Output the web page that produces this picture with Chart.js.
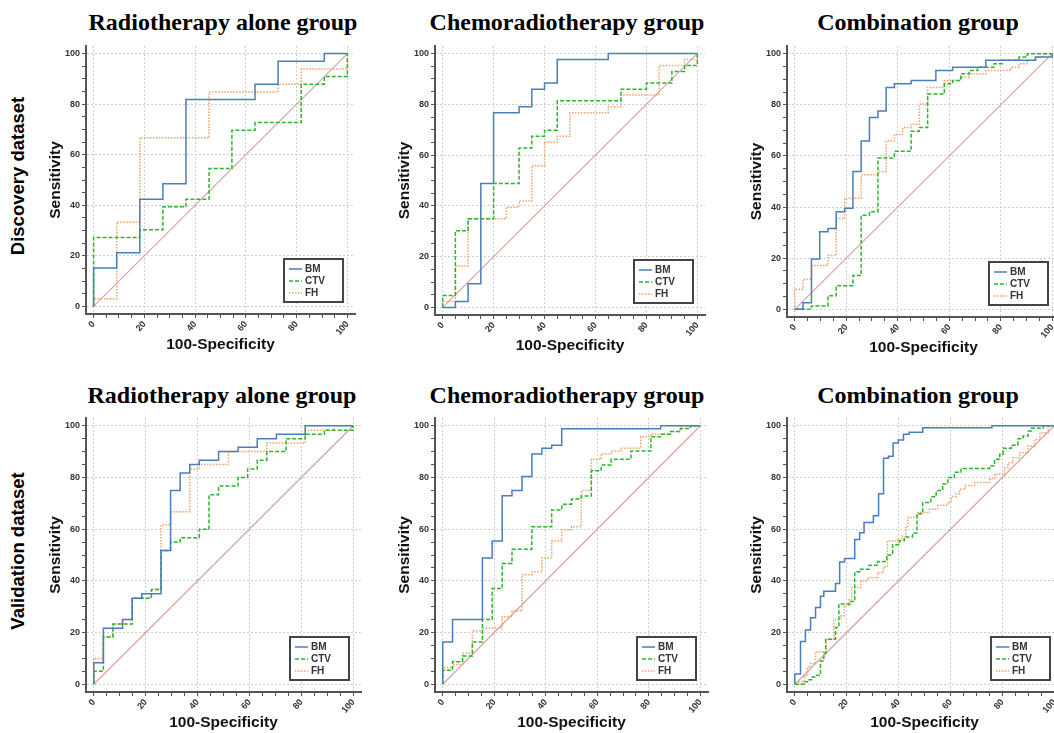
<!DOCTYPE html>
<html lang="en">
<head>
  <meta charset="UTF-8" />
  <title>ROC curves: BM, CTV, FH</title>
  <script src="https://cdn.jsdelivr.net/npm/chart.js"></script>
  <style>
    body { margin: 0; background: #fff; }
    #page { position: relative; width: 1054px; height: 733px; overflow: hidden; }
    canvas { position: absolute; }
    .title { position: absolute; transform: translate(-50%, -50%); white-space: nowrap;
             font: bold 24px "Liberation Serif", "Times New Roman", serif; color: #000; }
    .rowlabel { position: absolute; transform: translate(-50%, -50%) rotate(-90deg); white-space: nowrap;
                font: bold 18.5px "Liberation Sans", Arial, sans-serif; color: #000; }
  </style>
</head>
<body>
<div id="page"></div>

<script>
  // ---- data, points are [100-Specificity, Sensitivity] ----
  const groupTitles = ['Radiotherapy alone group', 'Chemoradiotherapy group', 'Combination group'];
  const rowLabels = ['Discovery dataset', 'Validation dataset'];
  const seriesNames = ['BM', 'CTV', 'FH'];
  const tickLabels = [0, 20, 40, 60, 80, 100];
  const minorTicks = [0, 5, 10, 15, 20, 25, 30, 35, 40, 45, 50, 55, 60, 65, 70, 75, 80, 85, 90, 95, 100];
  const chance = [[0, 0], [100, 100]];

  const discRadBM = [[0,0],[0,15.2],[9.1,21.2],[18.2,42.4],[27.3,48.5],[36.4,81.8],[63.6,87.9],[72.7,97],[90.9,100],[100,100]];
  const discRadCTV = [[0,0],[0,27.3],[18.2,30.3],[27.3,39.4],[36.4,42.4],[45.5,54.5],[54.5,69.7],[63.6,72.7],[81.8,87.9],[90.9,90.9],[100,100]];
  const discRadFH = [[0,0],[0,3],[9.1,33.3],[18.2,66.7],[45.5,84.8],[72.7,87.9],[81.8,93.9],[100,100]];

  const discChemoBM = [[0,0],[5,2.3],[10,9.3],[15,48.8],[20,76.7],[30,79.1],[35,86],[40,88.4],[45,97.7],[65,100],[100,100]];
  const discChemoCTV = [[0,0],[0,4.7],[5,30.2],[10,34.9],[20,48.8],[30,62.8],[35,67.4],[40,69.8],[45,81.4],[70,86],[80,88.4],[90,93],[95,95.3],[100,100]];
  const discChemoFH = [[0,0],[0,2.3],[5,16.3],[10,34.9],[25,39.5],[30,41.9],[35,55.8],[40,65.1],[45,67.4],[50,76.7],[65,79.1],[70,83.7],[85,95.3],[95,97.7],[100,100]];

  const discCombBM = [[0,0],[3.2,2.6],[6.5,19.7],[9.7,30.3],[12.9,31.6],[16.1,38.2],[19.4,39.5],[22.6,53.9],[25.8,65.8],[29,75],[32.3,77.6],[35.5,86.8],[38.7,88.2],[45.2,89.5],[54.8,93.4],[61.3,94.7],[74.2,97.4],[93.5,98.7],[100,100]];
  const discCombCTV = [[0,0],[6.5,1.3],[12.9,5.3],[16.1,9.2],[22.6,13.2],[25.8,36.8],[29,38.2],[32.3,59.2],[38.7,61.8],[45.2,69.7],[48.4,71.1],[51.6,84.2],[58.1,88.2],[61.3,89.5],[64.5,92.1],[67.7,93.4],[71,94.7],[77.4,96.1],[80.6,97.4],[87.1,98.7],[90.3,100],[100,100]];
  const discCombFH = [[0,0],[0,7.9],[3.2,11.8],[6.5,17.1],[12.9,21.1],[16.1,35.5],[19.4,43.4],[25.8,52.6],[32.3,53.9],[35.5,65.8],[38.7,68.4],[41.9,71.1],[45.2,72.4],[48.4,80.3],[51.6,86.8],[58.1,89.5],[64.5,90.8],[67.7,92.1],[74.2,93.4],[83.9,94.7],[87.1,96.1],[90.3,97.4],[93.5,98.7],[96.8,100],[100,100]];

  const valRadBM = [[0,0],[0,8.3],[3.7,21.7],[11.1,25],[14.8,33.3],[18.5,35],[25.9,51.7],[29.6,75],[33.3,81.7],[37,85],[40.7,86.7],[48.1,90],[55.6,91.7],[63,95],[70.4,96.7],[81.5,100],[100,100]];
  const valRadCTV = [[0,0],[0,5],[3.7,18.3],[7.4,23.3],[14.8,33.3],[22.2,36.7],[25.9,51.7],[29.6,55],[33.3,56.7],[40.7,60],[44.4,73.3],[48.1,76.7],[55.6,80],[59.3,83.3],[63,86.7],[66.7,90],[74.1,95],[81.5,96.7],[88.9,98.3],[100,100]];
  const valRadFH = [[0,0],[0,10],[3.7,18.3],[7.4,23.3],[11.1,25],[14.8,33.3],[22.2,36.7],[25.9,61.7],[29.6,66.7],[37,83.3],[40.7,85],[51.9,90],[66.7,93.3],[81.5,98.3],[92.6,100],[100,100]];

  const valChemoBM = [[0,0],[0,16.3],[3.8,25],[15.4,48.8],[19.2,55.4],[23.1,72.9],[26.9,75],[30.8,80.4],[34.6,89.1],[38.5,91.3],[42.3,92.5],[46.2,98.8],[84.6,100],[100,100]];
  const valChemoCTV = [[0,0],[0,5.4],[3.8,8.7],[7.7,10.9],[11.5,16.3],[15.4,25],[19.2,37],[23.1,46.7],[26.9,52.2],[34.6,60.9],[42.3,67.4],[46.2,69.6],[50,71.7],[53.8,72.8],[57.7,82.6],[61.5,84.8],[65.4,87],[73.1,90.2],[80.8,95.7],[84.6,96.7],[88.5,97.8],[92.3,98.9],[96.2,100],[100,100]];
  const valChemoFH = [[0,0],[0,6.5],[3.8,7.6],[7.7,12],[11.5,20.7],[15.4,21.7],[23.1,26.1],[26.9,28.3],[30.8,42.4],[34.6,43.5],[38.5,48.9],[42.3,55.4],[46.2,59.8],[50,60.9],[53.8,75],[57.7,87],[61.5,89.1],[65.4,90.2],[69.2,91.3],[76.9,95.7],[80.8,96.7],[88.5,97.8],[92.3,100],[100,100]];

  const valCombBM = [[0,0],[0,4],[2.2,16.5],[4.1,21],[6.1,25.7],[8,29.7],[9.9,34],[11.2,36],[15.7,39],[17.3,47.3],[19.2,48.6],[23.1,56],[25,58.6],[26.7,62.6],[30.3,65.2],[32.3,73.7],[34.2,87.4],[36.1,88.2],[37.9,93.3],[39.9,94.5],[41.9,96.7],[44.1,97.5],[49.3,99.2],[76,100],[100,100]];
  const valCombCTV = [[0,0],[3.5,1],[5.5,1.7],[6.8,2.8],[8.5,3.5],[9.9,9],[11.2,12],[11.9,17.4],[15.7,22],[17,31],[21.5,32],[23.1,43.5],[25.2,44.5],[28.6,46],[31.9,47.5],[35.5,50],[37.7,54],[40.3,55.5],[42.2,57],[45.4,58.5],[47.1,66],[49.3,70.3],[52.5,72.5],[54.5,75],[57,77.5],[59,80],[61.5,82],[64.1,83.5],[75.1,84.5],[77,87],[79,89],[80.3,91.3],[83.5,92.5],[86,95],[88,96],[90,98],[91.2,99],[95.7,100],[100,100]];
  const valCombFH = [[0,0],[1.5,0.9],[3.5,3.2],[4.8,6.6],[6.1,8],[8,12.6],[12.1,17.4],[15.1,25.1],[17.7,26.4],[19,30.5],[20.9,32.8],[21.9,37.4],[25.4,40],[28,41.2],[31.9,43.2],[34.2,45.4],[35.7,55.4],[39.6,56.3],[41.3,57.3],[42.8,60.5],[43.5,64.5],[47.4,66.4],[51.9,67.7],[55.1,69.2],[59,70.5],[60.3,72.6],[62.2,73.7],[63.5,75.4],[65.7,76.9],[69.3,78],[75.1,79.5],[77,81.2],[80.9,83.8],[82.2,85.7],[84.1,87.6],[86.7,89.6],[89.9,92.1],[92.5,94.7],[94.5,97.3],[97.7,100],[100,100]];

  const panelCurves = [
    [discRadBM, discRadCTV, discRadFH], [discChemoBM, discChemoCTV, discChemoFH], [discCombBM, discCombCTV, discCombFH],
    [valRadBM, valRadCTV, valRadFH], [valChemoBM, valChemoCTV, valChemoFH], [valCombBM, valCombCTV, valCombFH]
  ];

  // ---- layout: plot frames in page pixels ----
  const frames = [
    {l: 86, t: 46, r: 355, b: 314}, {l: 435, t: 46, r: 705, b: 315}, {l: 787, t: 46, r: 1060, b: 317},
    {l: 86, t: 418, r: 361, b: 692}, {l: 435, t: 418, r: 708, b: 692}, {l: 787, t: 418, r: 1062, b: 692}
  ];
  const titlePos = [[223, 22], [567, 22], [918, 22], [222, 395], [567, 395], [918, 395]];
  const rowLabelPos = [[18, 176], [18, 551]];
  const seriesStyle = [
    {color: '#4a7ebb', dash: []},
    {color: '#2bb52b', dash: [4, 2]},
    {color: '#f5a066', dash: [1.5, 1.5]}
  ];
  const chanceColor = '#dba2a2';
  const AXW = 40, AXH = 40, PT = 8, PR = 12;
  const sansFont = '"Liberation Sans", Arial, sans-serif';

  const page = document.getElementById('page');

  const insideLegend = {
    id: 'insideLegend',
    afterDraw(chart) {
      const {ctx, chartArea} = chart;
      const items = chart.data.datasets.filter(d => d.label);
      const w = 59, h = 43;
      const x = chartArea.right - 12 - w, y = chartArea.bottom - 12 - h;
      ctx.save();
      ctx.fillStyle = '#fff';
      ctx.fillRect(x, y, w, h);
      ctx.strokeStyle = '#444';
      ctx.lineWidth = 2;
      ctx.strokeRect(x, y, w, h);
      ctx.font = 'bold 10px ' + sansFont;
      ctx.textBaseline = 'middle';
      items.forEach((d, i) => {
        const ly = y + 10 + i * 12;
        ctx.strokeStyle = d.borderColor;
        ctx.lineWidth = 1.5;
        ctx.setLineDash(d.borderDash || []);
        ctx.beginPath();
        ctx.moveTo(x + 5, ly);
        ctx.lineTo(x + 18, ly);
        ctx.stroke();
        ctx.setLineDash([]);
        ctx.fillStyle = '#333';
        ctx.fillText(d.label, x + 21, ly);
      });
      ctx.restore();
    }
  };

  function axis(title, horizontal) {
    return {
      type: 'linear', min: -3, max: 103,
      afterBuildTicks: s => { s.ticks = minorTicks.map(v => ({value: v})); },
      afterFit: s => { if (horizontal) s.height = AXH; else s.width = AXW; },
      ticks: {
        autoSkip: false, padding: horizontal ? 1 : 2, color: '#333',
        font: {family: sansFont, size: 9, weight: 'bold'},
        callback: v => tickLabels.includes(v) ? String(v) : ''
      },
      grid: {
        color: c => (c.tick && tickLabels.includes(c.tick.value)) ? '#cfcfcf' : 'rgba(0,0,0,0)',
        tickColor: '#555', tickLength: 4, lineWidth: 1
      },
      border: {display: true, color: '#555', width: 2, dash: [2, 2]},
      title: {
        display: true, text: title, color: '#111', padding: 0,
        font: {family: sansFont, size: 15.5, weight: 'bold'}
      }
    };
  }

  function toPoints(arr) { return arr.map(p => ({x: p[0], y: p[1]})); }

  frames.forEach((f, i) => {
    const cv = document.createElement('canvas');
    const w = (f.r - f.l) + AXW + PR, h = (f.b - f.t) + PT + AXH;
    cv.width = w; cv.height = h;
    cv.style.left = (f.l - AXW) + 'px';
    cv.style.top = (f.t - PT) + 'px';
    cv.style.width = w + 'px'; cv.style.height = h + 'px';
    page.appendChild(cv);

    const datasets = panelCurves[i].map((curve, k) => ({
      label: seriesNames[k],
      data: toPoints(curve),
      showLine: true, stepped: true, order: 1,
      borderColor: seriesStyle[k].color,
      backgroundColor: seriesStyle[k].color,
      borderDash: seriesStyle[k].dash,
      borderWidth: 1.5, pointRadius: 0
    }));
    // reference diagonal, drawn underneath the curves
    datasets.push({
      label: '', data: toPoints(chance), showLine: true, stepped: false, order: 2,
      borderColor: chanceColor, backgroundColor: chanceColor, borderDash: [],
      borderWidth: 1.2, pointRadius: 0
    });

    new Chart(cv, {
      type: 'scatter',
      data: {datasets},
      options: {
        responsive: false, animation: false,
        layout: {padding: {left: 0, top: PT, right: PR, bottom: 0}},
        plugins: {legend: {display: false}, tooltip: {enabled: false}},
        scales: {x: axis('100-Specificity', true), y: axis('Sensitivity', false)}
      },
      plugins: [insideLegend]
    });

    const t = document.createElement('div');
    t.className = 'title';
    t.textContent = groupTitles[i % 3];
    t.style.left = titlePos[i][0] + 'px';
    t.style.top = titlePos[i][1] + 'px';
    page.appendChild(t);
  });

  rowLabels.forEach((txt, i) => {
    const d = document.createElement('div');
    d.className = 'rowlabel';
    d.textContent = txt;
    d.style.left = rowLabelPos[i][0] + 'px';
    d.style.top = rowLabelPos[i][1] + 'px';
    page.appendChild(d);
  });
</script>
</body>
</html>
